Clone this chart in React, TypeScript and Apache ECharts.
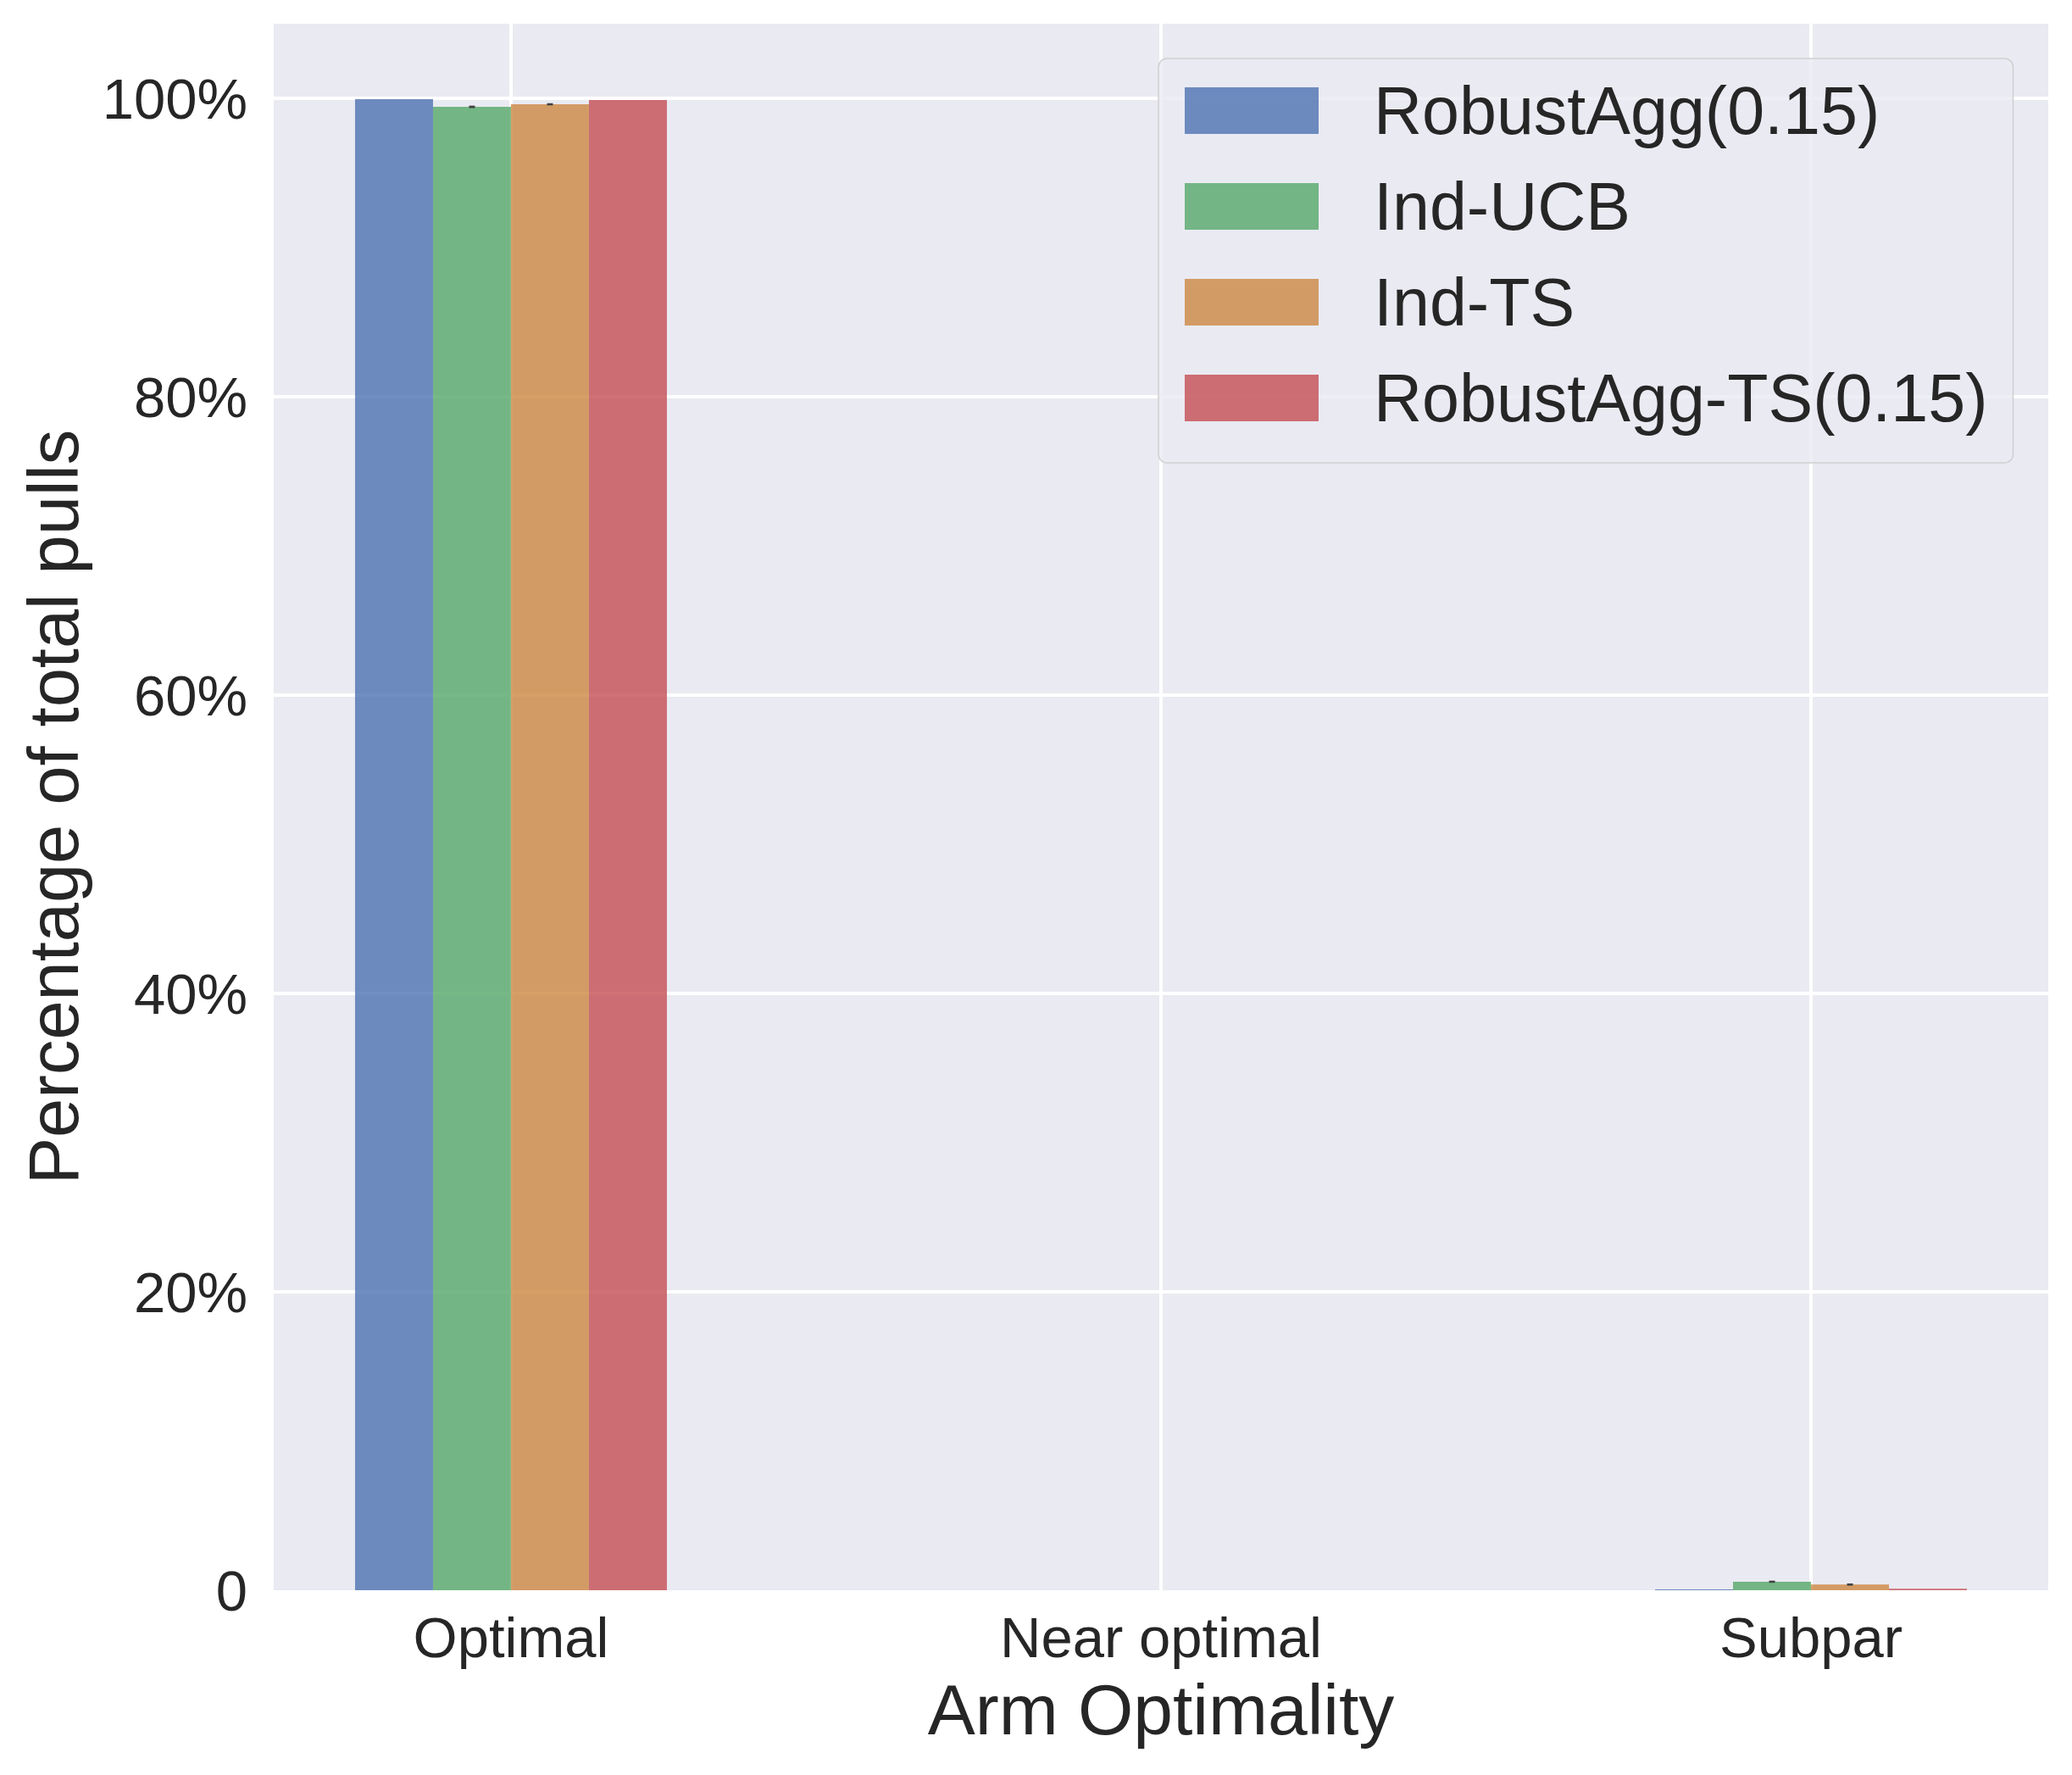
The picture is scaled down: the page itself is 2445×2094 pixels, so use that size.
import React, { useEffect, useRef } from "react";
import * as echarts from "echarts";

const categories = ["Optimal", "Near optimal", "Subpar"];
const seriesNames = ["RobustAgg(0.15)", "Ind-UCB", "Ind-TS", "RobustAgg-TS(0.15)"];
const robustAgg = [99.94, 0, 0.06];
const indUCB = [99.43, 0, 0.57];
const indTS = [99.6, 0, 0.38];
const robustAggTS = [99.89, 0, 0.1];
// error bar half-widths (percentage points), per series and category
const errRobustAgg = [0, 0, 0];
const errIndUCB = [0.08, 0, 0.06];
const errIndTS = [0.04, 0, 0.06];
const errRobustAggTS = [0, 0, 0];
const yTicks = [0, 20, 40, 60, 80, 100];
const colors = [
  "rgba(76,114,176,0.8)",
  "rgba(85,168,104,0.8)",
  "rgba(204,135,65,0.8)",
  "rgba(196,78,82,0.8)",
];

const FONT = "Liberation Sans, Arial, Helvetica, sans-serif";
const TEXT = "#262626";
const BAR_W = 92;

export default function App() {
  const ref = useRef<HTMLDivElement>(null);
  useEffect(() => {
    if (!ref.current) return;
    const chart = echarts.init(ref.current, null, { renderer: "svg" });
    const values = [robustAgg, indUCB, indTS, robustAggTS];
    const errs = [errRobustAgg, errIndUCB, errIndTS, errRobustAggTS];
    const barSeries = seriesNames.map((name, si) => ({
      name,
      type: "bar",
      barWidth: BAR_W,
      barGap: "0%",
      itemStyle: { color: colors[si] },
      data: values[si].map((v, ci) => [ci, v]),
      z: 2,
    }));
    const errData: number[][] = [];
    errs.forEach((arr, si) =>
      arr.forEach((e, ci) => {
        if (e > 0) errData.push([ci, values[si][ci], e, si]);
      })
    );
    const errSeries = {
      type: "custom",
      name: "err",
      coordinateSystem: "cartesian2d",
      z: 5,
      silent: true,
      data: errData,
      renderItem: (params: any, api: any) => {
        const c = api.value(0);
        const v = api.value(1);
        const e = api.value(2);
        const si = api.value(3);
        const top = api.coord([c, v + e]);
        const bot = api.coord([c, v - e]);
        const x = top[0] + (si - 1.5) * BAR_W;
        const h = Math.max(bot[1] - top[1], 2.5);
        return {
          type: "rect",
          shape: { x: x - 3.5, y: (top[1] + bot[1]) / 2 - h / 2, width: 7, height: h },
          style: { fill: "#404040" },
        };
      },
    };
    chart.setOption({
      animation: false,
      backgroundColor: "#ffffff",
      grid: {
        left: 323,
        right: 28,
        top: 28,
        bottom: 218,
        show: true,
        backgroundColor: "#EAEAF2",
        borderWidth: 0,
        containLabel: false,
      },
      legend: {
        data: seriesNames,
        orient: "vertical",
        left: 1367,
        top: 69,
        itemWidth: 158,
        itemHeight: 55,
        itemGap: 34,
        icon: "rect",
        padding: [22, 30, 37, 31],
        backgroundColor: "rgba(234,234,242,0.8)",
        borderColor: "#d0d0d0",
        borderWidth: 1.5,
        borderRadius: 10,
        textStyle: {
          fontSize: 79,
          fontFamily: FONT,
          color: TEXT,
          padding: [0, 0, 0, 60],
        },
      },
      xAxis: {
        type: "value",
        min: -0.365,
        max: 2.365,
        name: "Arm Optimality",
        nameLocation: "middle",
        nameGap: 99,
        nameTextStyle: { fontSize: 84, fontFamily: FONT, color: TEXT },
        axisLine: { show: false },
        axisTick: { show: false, customValues: [0, 1, 2] },
        axisLabel: {
          customValues: [0, 1, 2],
          formatter: (v: number) => categories[Math.round(v)] ?? "",
          fontSize: 67,
          fontFamily: FONT,
          color: TEXT,
          margin: 22,
        },
        splitLine: { show: true, lineStyle: { color: "#ffffff", width: 4 } },
      },
      yAxis: {
        type: "value",
        min: 0,
        max: 105,
        name: "Percentage of total pulls",
        nameLocation: "middle",
        nameGap: 218,
        nameTextStyle: { fontSize: 83, fontFamily: FONT, color: TEXT },
        axisLine: { show: false },
        axisTick: { show: false, customValues: yTicks.filter((t) => t > 0) },
        axisLabel: {
          customValues: yTicks,
          formatter: (v: number) => (v === 0 ? "0" : v + "%"),
          fontSize: 67,
          fontFamily: FONT,
          color: TEXT,
          margin: 31,
        },
        splitLine: { show: true, lineStyle: { color: "#ffffff", width: 4 } },
      },
      series: [...barSeries, errSeries],
    });
    return () => chart.dispose();
  }, []);
  return (
    <div
      ref={ref}
      style={{ position: "absolute", left: 0, top: 0, width: 2445, height: 2094 }}
    />
  );
}
